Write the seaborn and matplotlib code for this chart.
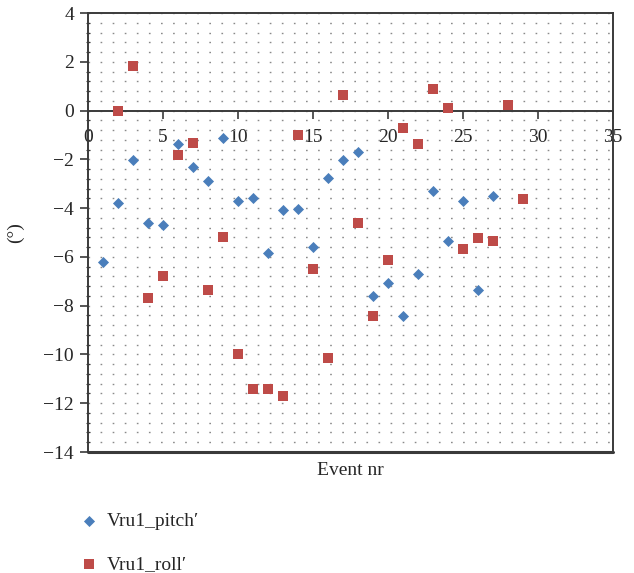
import numpy as np
import pandas as pd
import matplotlib
matplotlib.use("Agg")
import matplotlib.pyplot as plt
from matplotlib.ticker import MultipleLocator
import seaborn as sns

# ---- data ----
pitch_events = list(range(1, 28))
pitch_values = [-6.19, -3.78, -2.03, -4.60, -4.70, -1.39, -2.31, -2.89, -1.12, -3.70,
                -3.58, -5.86, -4.06, -4.03, -5.60, -2.76, -2.01, -1.70, -7.62, -7.09,
                -8.44, -6.70, -3.30, -5.34, -3.70, -7.35, -3.52]
roll_events = list(range(2, 30))
roll_values = [0.00, 1.83, -7.67, -6.77, -1.84, -1.33, -7.37, -5.20, -10.00, -11.42,
               -11.41, -11.72, -0.99, -6.51, -10.14, 0.64, -4.60, -8.41, -6.12, -0.72,
               -1.36, 0.90, 0.12, -5.69, -5.22, -5.33, 0.22, -3.61]
series_names = ["Vru1_pitch\u2032", "Vru1_roll\u2032"]
x_label = "Event nr"
y_label = "(\u00b0)"

df = pd.concat([
    pd.DataFrame({"event": pitch_events, "value": pitch_values, "series": series_names[0]}),
    pd.DataFrame({"event": roll_events, "value": roll_values, "series": series_names[1]}),
], ignore_index=True)

sns.set_theme(style="white")
plt.rcParams["font.family"] = ["Liberation Serif", "DejaVu Serif"]
plt.rcParams["axes.unicode_minus"] = True

fig = plt.figure(figsize=(6.34, 5.73), dpi=100)
ax = fig.add_axes([88/634, 1-452/573, (613-88)/634, (452-13)/573])

palette = {series_names[0]: "#4a7ebb", series_names[1]: "#be4b48"}
markers = {series_names[0]: "D", series_names[1]: "s"}
sizes_map = {series_names[0]: 32, series_names[1]: 55}

for name in series_names:
    sub = df[df["series"] == name]
    sns.scatterplot(data=sub, x="event", y="value", color=palette[name],
                    marker=markers[name], s=sizes_map[name], linewidth=0,
                    ax=ax, label=name, zorder=3)

ax.set_xlim(0, 35)
ax.set_ylim(-14, 4)
ax.xaxis.set_major_locator(MultipleLocator(5))
ax.yaxis.set_major_locator(MultipleLocator(2))
ax.yaxis.set_minor_locator(MultipleLocator(0.4))

# dotted grid
ax.yaxis.grid(True, which="both", color="#8a8a8a", linestyle=(0, (1.2, 7.5)), linewidth=1.0)
ax.xaxis.grid(False)
ax.set_axisbelow(True)

spine_col = "#3a3a3a"
for s in ax.spines.values():
    s.set_color(spine_col)
    s.set_linewidth(1.4)
    s.set_visible(True)
ax.spines["bottom"].set_position(("data", 0))
ax.axhline(-14, color=spine_col, linewidth=2.2, clip_on=False, zorder=4)

ax.tick_params(axis="x", which="major", direction="out", length=6, width=1.2,
               color=spine_col, pad=7, labelsize=14, bottom=True)
ax.tick_params(axis="y", which="major", direction="out", length=6, width=1.2,
               color=spine_col, pad=4, labelsize=14, left=True)
ax.tick_params(axis="y", which="minor", direction="inout", length=3, width=0.8,
               color=spine_col, left=True)
ax.tick_params(axis="x", which="minor", bottom=False)

ax.set_xlabel(x_label, fontsize=14)
ax.xaxis.set_label_coords(0.5, -0.022)
ax.xaxis.label.set_va("top")
ax.set_ylabel(y_label, fontsize=14, labelpad=14)

sns.move_legend(ax, loc="upper left", bbox_to_anchor=(-0.035, -0.12), frameon=False,
                title=None, fontsize=14, labelspacing=1.3, handletextpad=0.3,
                handlelength=1.2, borderaxespad=0)

fig.savefig("out.png", dpi=100)
